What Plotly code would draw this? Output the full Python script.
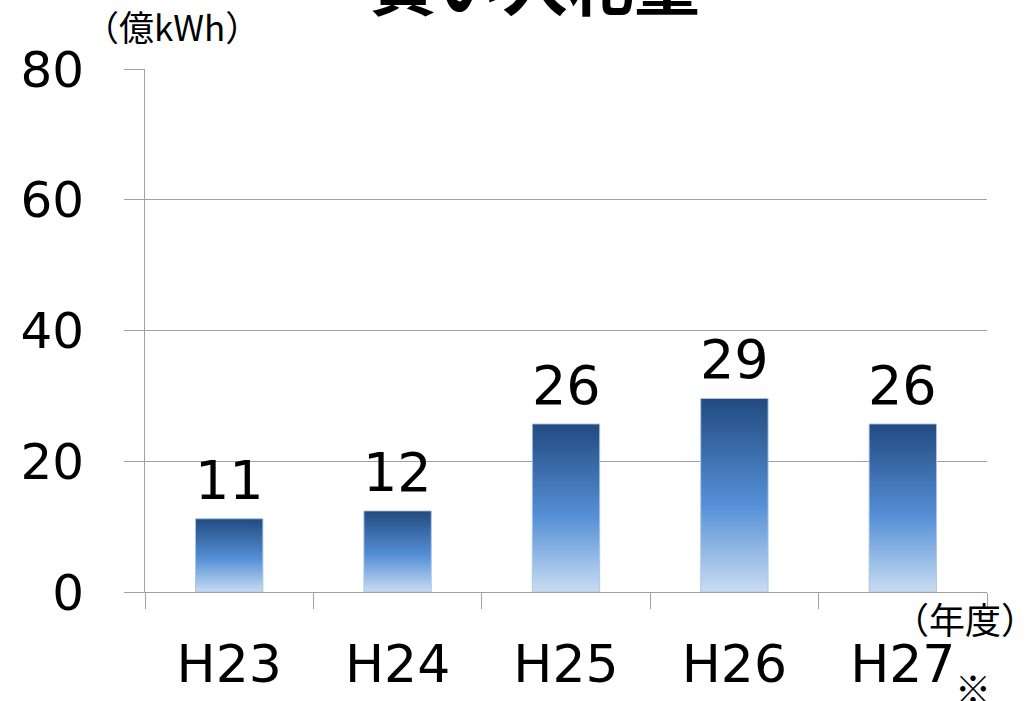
import plotly.graph_objects as go

# Data
years = ["H23", "H24", "H25", "H26", "H27"]
values = [11.2, 12.4, 25.7, 29.6, 25.7]
labels = ["11", "12", "26", "29", "26"]
title_text = "買い入札量"
unit_text = "（億kWh）"
xunit_text = "（年度）"
note_text = "※"

BAR_W = 0.4
GRID = "#a0a0a0"
NUM_FONT = "DejaVu Sans"
JP_FONT = "Noto Sans CJK JP"

fig = go.Figure()

grad = [[0.0, "#c9dcf2"], [0.45, "#5590d6"], [1.0, "#224a80"]]
for i, v in enumerate(values):
    x0, x1 = i - BAR_W / 2, i + BAR_W / 2
    fig.add_trace(go.Scatter(
        x=[x0, x1, x1, x0, x0],
        y=[0, 0, v, v, 0],
        mode="lines",
        fill="toself",
        fillgradient=dict(type="vertical", colorscale=grad),
        line=dict(color="rgba(170,196,232,0.9)", width=1),
        hoverinfo="skip",
        showlegend=False,
    ))

for i, (v, t) in enumerate(zip(values, labels)):
    fig.add_annotation(x=i, y=v, text=t, showarrow=False, yanchor="bottom",
                       yshift=5, font=dict(family=NUM_FONT, size=54, color="#000000"))

fig.add_annotation(xref="paper", yref="paper", x=(535 - 145) / 842, y=(592 + 19) / 523,
                   text="<b>" + title_text + "</b>", showarrow=False,
                   xanchor="center", yanchor="middle",
                   font=dict(family=JP_FONT, size=66, color="#000000"))
fig.add_annotation(xref="paper", yref="paper", x=(172 - 145) / 842, y=(592 - 25) / 523,
                   text=unit_text, showarrow=False, xanchor="center", yanchor="middle",
                   font=dict(family=JP_FONT, size=35, color="#000000"))
fig.add_annotation(xref="paper", yref="paper", x=(965 - 145) / 842, y=(592 - 618) / 523,
                   text=xunit_text, showarrow=False, xanchor="center", yanchor="middle",
                   font=dict(family=JP_FONT, size=36, color="#000000"))
fig.add_annotation(xref="paper", yref="paper", x=(973 - 145) / 842, y=(592 - 687) / 523,
                   text=note_text, showarrow=False, xanchor="center", yanchor="middle",
                   font=dict(family=JP_FONT, size=36, color="#000000"))

fig.update_layout(
    width=1025, height=701,
    margin=dict(l=145, r=38, t=69, b=109),
    paper_bgcolor="white", plot_bgcolor="white",
    showlegend=False,
    xaxis=dict(
        range=[-0.5, 4.5], tickmode="array", tickvals=list(range(len(years))),
        ticktext=years, ticks="", showgrid=False, zeroline=False,
        showline=True, linecolor=GRID, linewidth=1, automargin=False,
        ticklabelstandoff=27,
        tickfont=dict(family=NUM_FONT, size=52, color="#000000"),
        minor=dict(tickmode="array", tickvals=[i - 0.5 for i in range(len(years) + 1)],
                   ticks="outside", ticklen=16, tickcolor=GRID, tickwidth=1, showgrid=False),
        fixedrange=True,
    ),
    yaxis=dict(
        range=[0, 80], tickmode="linear", tick0=0, dtick=20,
        showgrid=True, gridcolor=GRID, gridwidth=1, zeroline=False,
        showline=True, linecolor=GRID, linewidth=1, automargin=False,
        ticks="outside", ticklen=20, tickcolor=GRID, tickwidth=1,
        ticklabelstandoff=30,
        tickfont=dict(family=NUM_FONT, size=50, color="#000000"),
        fixedrange=True,
    ),
)

fig.write_html("out.html")
